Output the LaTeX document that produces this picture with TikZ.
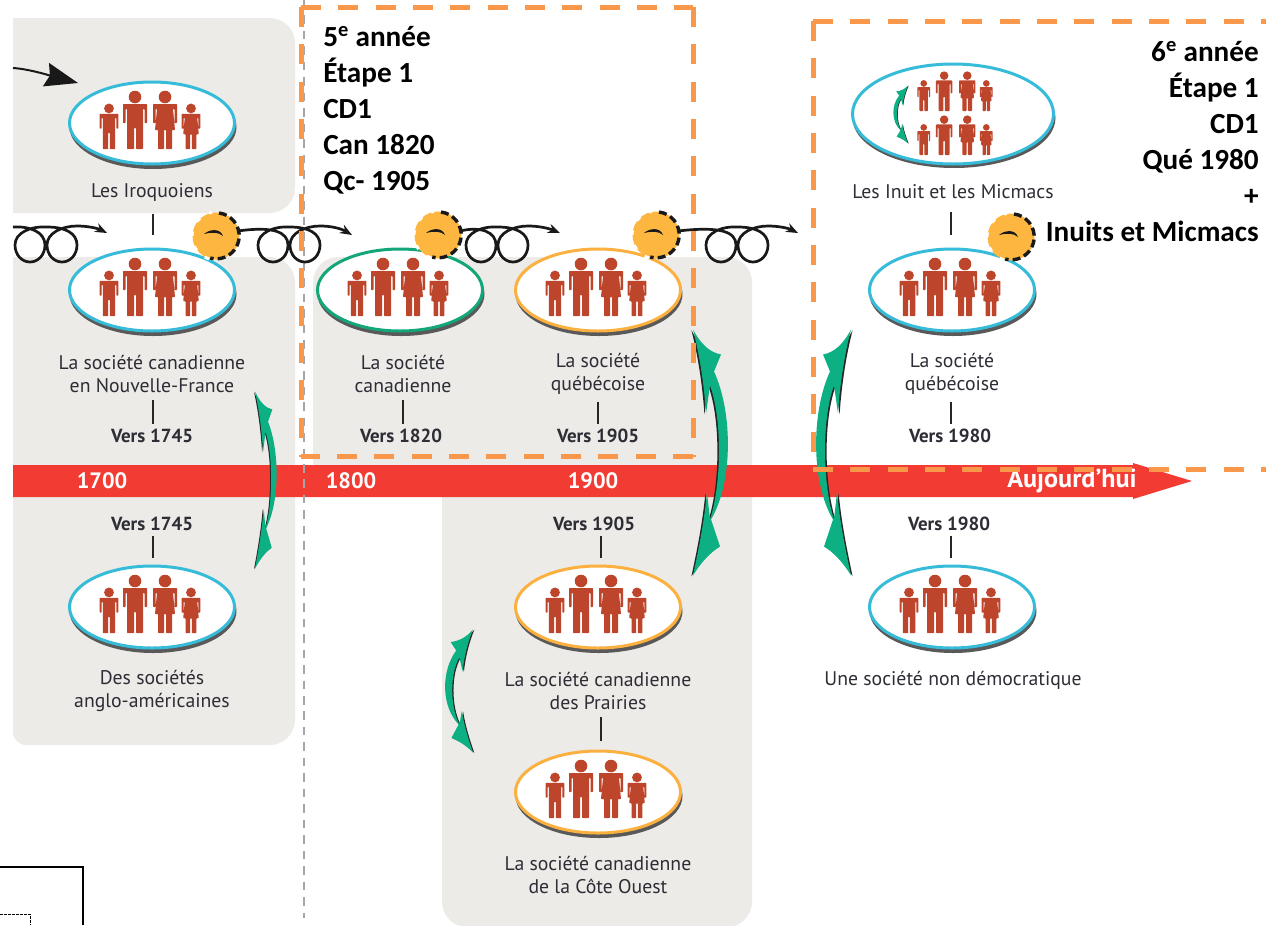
\documentclass[tikz,border=0pt]{standalone}
\usepackage{fontspec}
\setmainfont{PT Sans}
\newfontfamily\calib{Carlito}
\usetikzlibrary{shapes.geometric,arrows.meta}
\def\pxu{0.75pt}
\definecolor{panelgray}{HTML}{ECEBE7}
\definecolor{barred}{HTML}{F23B33}
\definecolor{dashorange}{HTML}{F9974A}
\definecolor{famblue}{HTML}{36BCD8}
\definecolor{famgreen}{HTML}{12A679}
\definecolor{famorange}{HTML}{FBB040}
\definecolor{personred}{HTML}{BD452B}
\definecolor{arrowgreen}{HTML}{0DB083}
\definecolor{sunorange}{HTML}{FDB741}
\definecolor{inktext}{HTML}{2E2D36}
\tikzset{
 panel/.style={fill=panelgray,draw=none,rounded corners=19pt},
 fam/.style={ellipse,fill=white,draw=#1,line width=3*\pxu,minimum width=165*\pxu,minimum height=82*\pxu,inner sep=0pt},
 lab/.style={font=\fontsize{14.8}{17}\selectfont,text=inktext,align=center,inner sep=0pt},
 vers/.style={font=\fontsize{14.2}{16}\selectfont\bfseries,text=inktext,inner sep=0pt},
 tickst/.style={draw=black!85,line width=2.6*\pxu},
 loopst/.style={draw=black!90,line width=2.7*\pxu,-{Stealth[length=9pt,width=7pt]}},
 orangedash/.style={draw=dashorange,line width=5*\pxu,dash pattern=on 15pt off 13pt},
 yearlab/.style={font=\fontsize{16.7}{18}\selectfont\bfseries,text=white,inner sep=0pt},
 bigtxt/.style={font=\fontsize{21.9}{27}\selectfont\calib\bfseries,text=black,inner sep=0pt},
 sunst/.style={circle,fill=sunorange,draw=none,minimum size=47*\pxu,inner sep=0pt},
}
\newcommand\personM[3]{\begin{scope}[shift={(#1,#2)},scale=#3]
 \fill[personred] (0,-52) circle[radius=6.3];
 \fill[personred,rounded corners=0.5pt] (-12,-45)--(12,-45)--(12,-26)--(9.5,-26)--(9.5,-40)--(8,-40)--(8,0)--(1,0)--(1,-21)--(-1,-21)--(-1,0)--(-8,0)--(-8,-40)--(-9.5,-40)--(-9.5,-26)--(-12,-26)--cycle;
\end{scope}}
\newcommand\personF[3]{\begin{scope}[shift={(#1,#2)},scale=#3]
 \fill[personred] (0,-52) circle[radius=6.3];
 \fill[personred,rounded corners=0.5pt] (-12,-45)--(12,-45)--(12,-26)--(9.5,-26)--(9.5,-40)--(8,-40)--(10,-19)--(7,-19)--(7,0)--(1,0)--(1,-19)--(-1,-19)--(-1,0)--(-7,0)--(-7,-19)--(-10,-19)--(-8,-40)--(-9.5,-40)--(-9.5,-26)--(-12,-26)--cycle;
\end{scope}}
\newcommand\people[3]{\begin{scope}[shift={(#1,#2)},scale=#3]
 \personM{-43}{26}{0.78}\personM{-17}{26}{1}\personF{13}{26}{1}\personF{39}{26}{0.78}
\end{scope}}
\newcommand\family[5]{%
 \fill[#5] (#2+1,#3+4) ellipse[x radius=83.5,y radius=42];
 \node[fam=#4] (#1) at (#2,#3) {};
 \people{#2}{#3}{1}}
\newcommand\greenarr[4]{\begin{scope}[shift={(#1,#2)},xscale=#3,yscale=#4]
 \foreach \sx/\sy/\col in {-1.6/0.8/black!85,0/0/arrowgreen}{
 \fill[\col,shift={(\sx,\sy)}] (0,-123) .. controls (8,-108) and (17,-100) .. (28,-98) -- (21,-81)
  .. controls (40,-40) and (40,30) .. (18,67) -- (27,94) .. controls (17,100) and (8,110) .. (0,123)
  .. controls (6,95) and (11,70) .. (14,40) -- (17,67)
  .. controls (29,30) and (29,-35) .. (17,-67) -- (13,-39)
  .. controls (11,-70) and (6,-100) .. (0,-123) -- cycle;}
\end{scope}}
\newcommand\sunmark[3]{%
 \node[sunst] (#1) at (#2,#3) {};
 \begin{scope}[shift={(#2,#3)},yscale=-1]
  \draw[black!90,line width=3.4*\pxu,dash pattern=on 6pt off 3pt] (3,23) arc[start angle=83,end angle=-105,radius=23];
  \draw[white,line width=3*\pxu,dash pattern=on 3.5pt off 8pt] (-7,-23) arc[start angle=253,end angle=100,radius=24];
  \fill[black!90] (-12,2) .. controls (-6,7) and (4,8) .. (7,0) .. controls (3,4) and (-5,4) .. (-12,2) -- cycle;
 \end{scope}}
\newcommand\looparrow[3]{\begin{scope}[shift={(#2,0)}]
 \draw[loopst] (#1) .. controls (15,226) and (30,232) .. (30,245)
  .. controls (30,255) and (23,262) .. (15,262)
  .. controls (7,262) and (0,255) .. (0,245)
  .. controls (0,233) and (15,226) .. (32,227)
  .. controls (50,227) and (62,233) .. (62,245)
  .. controls (62,255) and (55,262) .. (47,262)
  .. controls (39,262) and (32,255) .. (32,245)
  .. controls (32,233) and (47,226) .. (62,226)
  .. controls (72,226) and (82,228) .. (#3);
\end{scope}}
\newcommand\ticklink[5]{\draw[tickst,shorten <=#4*\pxu,shorten >=#5*\pxu] ([xshift=#3*\pxu]#1.south) -- ([xshift=#3*\pxu]#1.south |- #2.north);}
\begin{document}
\begin{tikzpicture}[x=0.75pt,y=-0.75pt]
\clip (0,0) rectangle (1266,925);
\fill[white] (0,0) rectangle (1266,925);
% panels
\fill[panel,rounded corners=0pt] (13,18) [rounded corners=19pt] -- (295,18) -- (295,213) [rounded corners=0pt] -- (13,213) -- cycle;
\fill[panel,rounded corners=0pt] (13,257) [rounded corners=19pt] -- (295,257) -- (295,745) [rounded corners=10pt] -- (13,745) [rounded corners=0pt] -- cycle;
\fill[panel] (313,490) -- (313,257) -- (752,257) -- (752,927) -- (442,927) [rounded corners=0pt] -- (442,490) -- cycle;
% time bar
\fill[barred] (13,465) -- (1133,465) -- (1133,463) -- (1192,481) -- (1133,499) -- (1133,497) -- (13,497) -- cycle;
\node[yearlab] (y1700) at (102,481) {1700};
\node[yearlab] (y1800) at (351,481) {1800};
\node[yearlab] (y1900) at (593,481) {1900};
\node[yearlab,font=\fontsize{19.6}{20}\selectfont\bfseries] (yNow) at (1072,481) {Aujourd'hui};
% grey limit
\coordinate (limA) at (304,0);
\coordinate (limB) at (304,918);
\draw[black!35,line width=2*\pxu,dash pattern=on 6.4pt off 5.2pt] (limA) -- (limB);
% families
\family{iro}{152}{123}{famblue}{black!65}
\family{nf}{152}{290}{famblue}{black!65}
\family{ang}{152}{607}{famblue}{black!65}
\family{can}{400}{290}{famgreen}{black!65}
\family{que}{598}{290}{famorange}{black!65}
\family{pra}{598}{607}{famorange}{black!65}
\family{cot}{598}{792}{famorange}{black!65}
\family{qu2}{952}{290}{famblue}{black!65}
\family{non}{952}{607}{famblue}{black!65}
% Inuit ellipse
\fill[black!65] (954,118) ellipse[x radius=101.5,y radius=50];
\node[ellipse,fill=white,draw=famblue,line width=3*\pxu,minimum width=201*\pxu,minimum height=100*\pxu,inner sep=0pt] (inu) at (953,114) {};
\begin{scope}[shift={(955,111)},scale=0.68]
 \personM{-46}{0}{0.78}\personM{-16}{0}{1}\personF{18}{0}{1}\personF{46}{0}{0.78}
\end{scope}
\begin{scope}[shift={(955,155)},scale=0.68]
 \personM{-46}{0}{0.78}\personM{-16}{0}{1}\personF{18}{0}{1}\personF{46}{0}{0.78}
\end{scope}
% labels
\node[lab] (Liro) at (152,192) {Les Iroquoiens};
\node[lab] (Lnf) at (152,374) {La société canadienne\\en Nouvelle-France};
\node[vers] (Vnf) at (152,436) {Vers 1745};
\node[vers] (Vang) at (152,524) {Vers 1745};
\node[lab] (Lang) at (152,691) {Des sociétés\\anglo-américaines};
\node[lab] (Lcan) at (403,374) {La société\\canadienne};
\node[vers] (Vcan) at (401,436) {Vers 1820};
\node[lab] (Lque) at (598,374) {La société\\québécoise};
\node[vers] (Vque) at (598,436) {Vers 1905};
\node[vers] (Vpra) at (594,524) {Vers 1905};
\node[lab] (Lpra) at (598,691) {La société canadienne\\des Prairies};
\node[lab] (Lcot) at (598,875) {La société canadienne\\de la Côte Ouest};
\node[lab] (Linu) at (953,192) {Les Inuit et les Micmacs};
\node[lab] (Lqu2) at (952,374) {La société\\québécoise};
\node[vers] (Vqu2) at (950,436) {Vers 1980};
\node[vers] (Vnon) at (949,524) {Vers 1980};
\node[lab] (Lnon) at (953,680) {Une société non démocratique};
% ticks
\ticklink{Liro}{nf}{1}{13}{13}
\ticklink{Lnf}{Vnf}{1}{7}{5}
\ticklink{Vang}{ang}{1}{5}{7}
\ticklink{Lcan}{Vcan}{0}{7}{5}
\ticklink{Lque}{Vque}{0}{7}{5}
\ticklink{Vpra}{pra}{7}{5}{7}
\ticklink{Lpra}{cot}{3}{7}{9}
\ticklink{Linu}{qu2}{-2}{13}{13}
\ticklink{Lqu2}{Vqu2}{-1}{7}{5}
\ticklink{Vnon}{non}{2}{5}{7}
% green arrows
\greenarr{255}{480}{0.62}{0.72}
\greenarr{693}{452.5}{1}{1}
\greenarr{851}{452.5}{-1}{1}
\greenarr{473}{691}{-0.8}{0.5}
\greenarr{908}{114.5}{-0.42}{0.235}
% entering arrow
\coordinate (inA) at (13,68);
\coordinate (inB) at (78,83);
\draw[black!90,line width=2*\pxu,-{Stealth[length=33*\pxu,width=24*\pxu,inset=4*\pxu]}] (inA) .. controls (30,69) and (55,77) .. (inB);
% looping arrows
\coordinate (startL) at (13,227);
\coordinate (tipA) at (107,233);
\coordinate (tipB) at (352,235);
\coordinate (tipC) at (560,233);
\coordinate (tipD) at (798,233);
\coordinate (s1out) at (238,231);
\coordinate (s2out) at (460,231);
\coordinate (s3out) at (678,231);
\looparrow{startL}{15}{tipA}
\looparrow{s1out}{258}{tipB}
\looparrow{s2out}{466}{tipC}
\looparrow{s3out}{706}{tipD}
\sunmark{sunA}{216}{236}
\sunmark{sunB}{438}{235}
\sunmark{sunC}{656}{235}
\sunmark{sunD}{1011}{237}
% orange frames
\coordinate (f1a) at (301,7);
\coordinate (f1b) at (693,7);
\coordinate (f1c) at (693,456.5);
\coordinate (f1d) at (301,456.5);
\draw[orangedash] (f1a) -- (f1b);
\draw[orangedash] (f1a) -- (f1d);
\draw[orangedash] (f1b) -- (f1c);
\draw[orangedash] (f1c) -- (f1d);
\coordinate (f2a) at (813,21);
\coordinate (f2b) at (1266,21);
\coordinate (f2c) at (813,469);
\coordinate (f2d) at (1266,469);
\draw[orangedash] (f2a) -- (f2b);
\draw[orangedash] (f2a) -- (f2c);
\draw[orangedash] (f2c) -- (f2d);
% stage texts
\node[bigtxt,anchor=north west,align=left] (stage5) at (323,26) {5\textsuperscript{e} année\\Étape 1\\CD1\\Can 1820\\Qc- 1905};
\node[bigtxt,anchor=north east,align=right] (stage6) at (1259,41) {6\textsuperscript{e} année\\Étape 1\\CD1\\Qué 1980\\+\\Inuits et Micmacs};
% corner marks
\draw[black,line width=1.6*\pxu] (0,867) -- (83,867) -- (83,925);
\draw[black,line width=0.9*\pxu,dash pattern=on 2pt off 1pt] (0,914) -- (30,914) -- (30,925);
\end{tikzpicture}
\end{document}
